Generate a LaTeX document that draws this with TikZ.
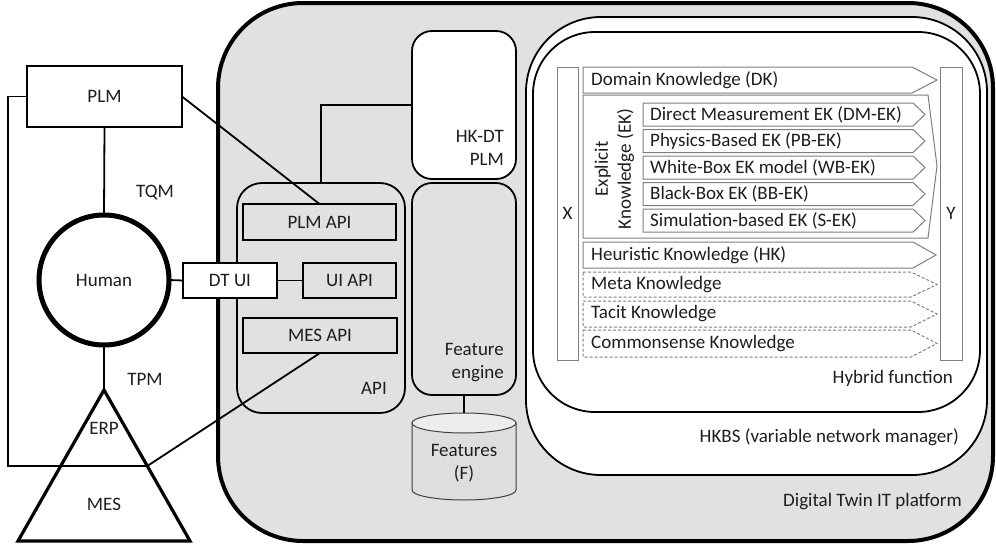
\documentclass[tikz,border=0pt]{standalone}
\usepackage{fontspec}
\setmainfont{Carlito}
\definecolor{platgray}{HTML}{E1E1E1}
\definecolor{cylbody}{HTML}{DEDEDE}
\definecolor{cyltop}{HTML}{EDEDED}
\definecolor{kgray}{HTML}{7F7F7F}
\definecolor{txt}{HTML}{1E1E1E}
\begin{document}
\begin{tikzpicture}[x=1pt,y=-1pt,
  font=\fontsize{19}{23}\selectfont,
  every node/.style={text=txt},
  boxnode/.style={draw=black, inner sep=0pt, outer sep=0pt},
  conn/.style={draw=black, line width=1.8pt},
  kbox/.style={draw=kgray, line width=1pt, fill=white},
  kdash/.style={draw=kgray, line width=1pt, fill=white, dash pattern=on 3pt off 2pt},
  ktext/.style={anchor=west, inner sep=0pt},
  lbl/.style={inner sep=0pt}
]
\useasboundingbox (0,0) rectangle (996,546);

% ---------- platform containers ----------
\node[boxnode, line width=4pt, fill=platgray, rounded corners=85pt,
      minimum width=775pt, minimum height=538pt] (platform) at (605.5,272) {};
\node[lbl, anchor=east] (platlbl) at (962,502) {Digital Twin IT platform};

\node[boxnode, line width=1.8pt, fill=white, rounded corners=75pt,
      minimum width=461pt, minimum height=458pt] (hkbs) at (756.5,246) {};
\node[lbl, anchor=east] (hkbslbl) at (959,437) {HKBS (variable network manager)};

\node[boxnode, line width=1.8pt, fill=white, rounded corners=62pt,
      minimum width=447pt, minimum height=380pt] (hybrid) at (756.5,222) {};
\node[lbl, anchor=east] (hyblbl) at (953,378) {Hybrid function};

% ---------- X / Y bars ----------
\node[boxnode, draw=kgray, line width=1pt, fill=white,
      minimum width=21pt, minimum height=293pt] (xbar) at (567.5,213.5) {};
\node[lbl] (xlbl) at (567.5,213) {X};
\node[boxnode, draw=kgray, line width=1pt, fill=white,
      minimum width=22pt, minimum height=293pt] (ybar) at (951,213.5) {};
\node[lbl] (ylbl) at (951,213) {Y};

% ---------- knowledge arrows ----------
\path[kbox] (583,67) -- (912,67) -- (937,80) -- (912,93) -- (583,93) -- cycle;
\node[ktext] (dk) at (591,80) {Domain Knowledge (DK)};

\path[kbox] (583,95) -- (928,95) -- (937,166) -- (928,238) -- (583,238) -- cycle;
\node[lbl, rotate=90, align=center] (ek) at (614.5,169) {Explicit\\Knowledge (EK)};

\path[kbox] (643,103) -- (913,103) -- (925,114.5) -- (913,126) -- (643,126) -- cycle;
\node[ktext] (dmek) at (650,114.5) {Direct Measurement EK (DM-EK)};
\path[kbox] (643,129.5) -- (913,129.5) -- (925,141) -- (913,152.5) -- (643,152.5) -- cycle;
\node[ktext] (pbek) at (650,141) {Physics-Based EK (PB-EK)};
\path[kbox] (643,156) -- (913,156) -- (925,167.5) -- (913,179) -- (643,179) -- cycle;
\node[ktext] (wbek) at (650,167.5) {White-Box EK model (WB-EK)};
\path[kbox] (643,182.5) -- (913,182.5) -- (925,194) -- (913,205.5) -- (643,205.5) -- cycle;
\node[ktext] (bbek) at (650,194) {Black-Box EK (BB-EK)};
\path[kbox] (643,209) -- (913,209) -- (925,220.5) -- (913,232) -- (643,232) -- cycle;
\node[ktext] (sek) at (650,220.5) {Simulation-based EK (S-EK)};

\path[kbox] (583,242) -- (913,242) -- (936,255) -- (913,268) -- (583,268) -- cycle;
\node[ktext] (hk) at (591,255) {Heuristic Knowledge (HK)};

\path[kdash] (583,272) -- (911,272) -- (937,284.5) -- (911,297) -- (583,297) -- cycle;
\node[ktext] (meta) at (591,284.5) {Meta Knowledge};
\path[kdash] (583,301) -- (911,301) -- (937,314) -- (911,327) -- (583,327) -- cycle;
\node[ktext] (tacit) at (591,314) {Tacit Knowledge};
\path[kdash] (583,330) -- (911,330) -- (937,343.5) -- (911,357) -- (583,357) -- cycle;
\node[ktext] (common) at (591,343.5) {Commonsense Knowledge};

% ---------- HK-DT, feature engine, features ----------
\node[boxnode, line width=1.8pt, fill=white, rounded corners=20pt,
      minimum width=104pt, minimum height=148pt] (hkdt) at (464,105) {};
\node[lbl, anchor=east, align=right] (hkdtlbl) at (504,148) {HK-DT\\PLM};

\node[boxnode, line width=1.8pt, fill=platgray, rounded corners=20pt,
      minimum width=104pt, minimum height=212pt] (fe) at (464,289) {};
\node[lbl, anchor=east, align=right] (felbl) at (504,363) {Feature\\engine};

\coordinate (cyltop) at (464,413);
\path[fill=cylbody, draw=black!75, line width=1pt]
  (412,423) -- (412,490) arc[start angle=180, end angle=0, x radius=52, y radius=10]
  -- (516,423) -- cycle;
\path[fill=cyltop, draw=black!75, line width=1pt] (464,423) ellipse[x radius=52, y radius=10];
\node[lbl, align=center] (features) at (464,463) {Features\\(F)};
\draw[conn] (fe.south) -- (cyltop);

% ---------- API ----------
\node[boxnode, line width=1.8pt, fill=platgray, rounded corners=25pt,
      minimum width=168pt, minimum height=230pt] (apibox) at (321,298) {};
\node[lbl, anchor=east] (apilbl) at (387,388) {API};
\node[boxnode, line width=2.2pt, fill=platgray,
      minimum width=153pt, minimum height=36pt] (plmapi) at (319.5,222) {PLM API};
\node[boxnode, line width=2.2pt, fill=platgray,
      minimum width=93pt, minimum height=35pt] (uiapi) at (349.5,280.5) {UI API};
\node[boxnode, line width=2.2pt, fill=platgray,
      minimum width=154pt, minimum height=35pt] (mesapi) at (320,335.5) {MES API};

\draw[conn] (apibox.north) |- (hkdt.west);

% ---------- left side ----------
\node[boxnode, line width=2.2pt, fill=white,
      minimum width=155pt, minimum height=61pt] (plm) at (104.5,96.5) {PLM};
\node[boxnode, circle, line width=5pt, fill=white, minimum size=130pt] (human) at (104,280) {Human};
\node[boxnode, line width=2pt, fill=white,
      minimum width=94pt, minimum height=35pt] (dtui) at (230,280.5) {DT UI};
\node[lbl] (tqm) at (155,193) {TQM};
\node[lbl] (tpm) at (145,379) {TPM};

\coordinate (apex) at (104,390);
\coordinate (tribl) at (18,541);
\coordinate (tribr) at (190,541);
\coordinate (erpR) at (147.3,466);
\draw[line width=3.2pt, line join=miter] (apex) -- (tribr) -- (tribl) -- cycle;
\node[lbl] (erp) at (104,428) {ERP};
\node[lbl] (mes) at (104,504) {MES};

\draw[conn] (plm.south) -- (human.north);
\draw[conn] (human.south) -- (apex);
\draw[conn] (human.east) -- (dtui.west);
\draw[conn] (dtui.east) -- (uiapi.west);
\draw[conn] (plm.east) -- (plmapi.north);
\draw[conn] (mesapi.south) -- (erpR);
\draw[conn] (plm.west) -- ++(-19,0) |- (erpR);
\end{tikzpicture}
\end{document}
